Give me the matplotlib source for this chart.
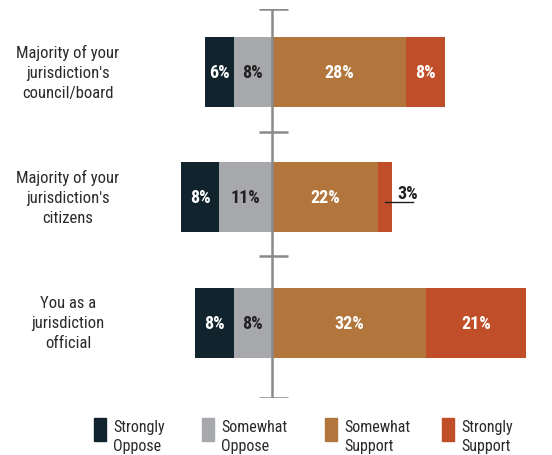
import matplotlib
matplotlib.use("Agg")
import matplotlib.pyplot as plt
import matplotlib.transforms as mtransforms
from matplotlib.patches import Rectangle

plt.rcParams['font.family'] = ['Liberation Sans Narrow', 'DejaVu Sans Condensed',
                               'Roboto Condensed', 'Roboto', 'DejaVu Sans']

# data
categories = ["Majority of your\njurisdiction's\ncouncil/board",
              "Majority of your\njurisdiction's\ncitizens",
              "You as a\njurisdiction\nofficial"]
strongly_oppose = [6, 8, 8]
somewhat_oppose = [8, 11, 8]
somewhat_support = [28, 22, 32]
strongly_support = [8, 3, 21]
series_names = ["Strongly\nOppose", "Somewhat\nOppose", "Somewhat\nSupport", "Strongly\nSupport"]
colors = ["#11242e", "#a7a8ab", "#b2763c", "#c04e28"]
text_colors = ["white", "#231f20", "white", "white"]

fig = plt.figure(figsize=(5.52, 4.56), dpi=100)
W, H = 552, 456
# axes: x pixels 162..546, y pixels 10..399
ax = fig.add_axes([162 / W, 1 - 399 / H, 384 / W, 389 / H])
ax.set_xlim(-110 / 4.8, 274 / 4.8)
ax.set_ylim(2.6, -0.5)
ax.axis("off")

y = list(range(len(categories)))
bh = 0.56
for i in y:
    so, wo = strongly_oppose[i], somewhat_oppose[i]
    ws, ss = somewhat_support[i], strongly_support[i]
    segs = [(-(so + wo), so), (-wo, wo), (0, ws), (ws, ss)]
    vals = [so, wo, ws, ss]
    for k, (left, width) in enumerate(segs):
        ax.barh(i, width, left=left, height=bh, color=colors[k], zorder=2)
        if vals[k] >= 5:
            ax.text(left + width / 2, i, f"{vals[k]}%", ha="center", va="center",
                    color=text_colors[k], fontsize=13, fontweight="bold", zorder=3)
        else:
            end = left + width
            ax.plot([end - 1.5, end + 4.3], [i + 0.04, i + 0.04], color="#231f20", lw=1, zorder=4)
            ax.text(end + 3.2, i - 0.035, f"{vals[k]}%", ha="center", va="center",
                    color="#231f20", fontsize=13, fontweight="bold", zorder=3)

# center axis with tick marks
ax.plot([0, 0], [-0.5, 2.6], color="#8a8a8a", lw=1.8, zorder=5, solid_capstyle="butt")
for t in [-0.5, 0.48, 1.47, 2.6]:
    ax.plot([-2.7, 3.3], [t, t], color="#8a8a8a", lw=1.8, zorder=5, solid_capstyle="butt")

# category labels
trans = mtransforms.blended_transform_factory(fig.transFigure, ax.transData)
for i, lab in enumerate(categories):
    ax.text(68 / W, i, lab, transform=trans, ha="center", va="center",
            fontsize=12, color="#2a2a2a", linespacing=1.4)

# legend
leg_x = [94, 202, 325, 442]
for k, name in enumerate(series_names):
    fig.add_artist(Rectangle((leg_x[k] / W, 1 - 442 / H), 12 / W, 23 / H,
                             transform=fig.transFigure, color=colors[k]))
    fig.text((leg_x[k] + 19) / W, 1 - 437 / H, name, ha="left", va="center",
             fontsize=11.5, color="#2a2a2a", linespacing=1.4)

fig.savefig("out.png", dpi=100)
